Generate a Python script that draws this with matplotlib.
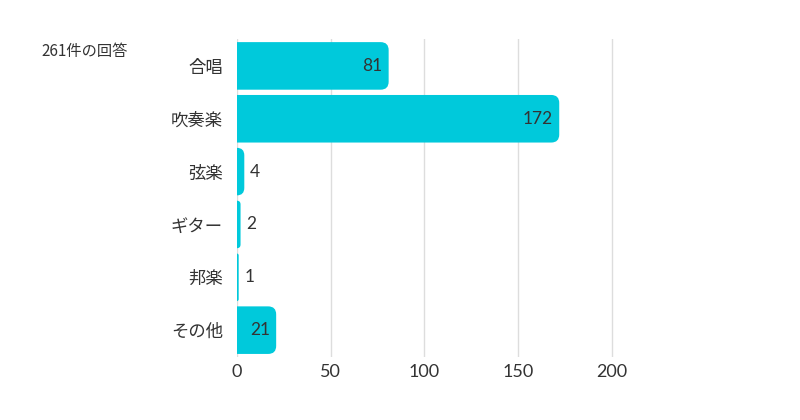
import matplotlib.pyplot as plt
from matplotlib.patches import FancyBboxPatch

categories = ['合唱', '吹奏楽', '弦楽', 'ギター', '邦楽', 'その他']
counts = [81, 172, 4, 2, 1, 21]
xticks = [0, 50, 100, 150, 200]
total_label = '261件の回答'

bar_color = '#00C9DB'
text_color = '#333333'
jp = ['Noto Sans CJK JP', 'DejaVu Sans']
num = ['Lato', 'Noto Sans CJK JP', 'DejaVu Sans']

fig = plt.figure(figsize=(8, 4.2), dpi=100)
ax = fig.add_axes([0.296, 0.151, 0.471, 0.755])

ypos = list(range(len(categories)))
ax.set_xlim(0, 201)
ax.set_ylim(len(categories) - 0.5, -0.5)

# pixels per data unit, used to keep the corners round
px_x = 0.471 * 800 / 201
px_y = 0.755 * 420 / len(categories)
aspect = px_x / px_y
bar_h = 0.9

for y, v in zip(ypos, counts):
    r = min(8 / px_x, v)
    patch = FancyBboxPatch((-r, y - bar_h / 2), v + r, bar_h,
                           boxstyle=f'round,pad=0,rounding_size={r}',
                           mutation_aspect=aspect,
                           facecolor=bar_color, edgecolor='none',
                           zorder=3, clip_on=True)
    ax.add_patch(patch)
    if v >= 15:
        ax.annotate(str(v), (v, y), xytext=(-4.5, 0), textcoords='offset points',
                    ha='right', va='center', fontsize=12.5, color=text_color,
                    family=num, zorder=4)
    else:
        ax.annotate(str(v), (v, y), xytext=(4, 0), textcoords='offset points',
                    ha='left', va='center', fontsize=12.5, color=text_color,
                    family=num, zorder=4)

ax.set_yticks(ypos)
ax.set_yticklabels(categories, fontsize=12.5, color=text_color, family=jp)
ax.set_xticks(xticks)
ax.set_xticklabels([str(t) for t in xticks], fontsize=13, color=text_color, family=num)
ax.tick_params(axis='y', length=0, pad=10)
ax.tick_params(axis='x', length=0, pad=5)

ax.grid(axis='x', color='#dddddd', linewidth=1, zorder=0)
ax.set_axisbelow(True)
for s in ax.spines.values():
    s.set_visible(False)

fig.text(0.052, 0.877, total_label, fontsize=11, color=text_color,
         family=jp, ha='left', va='center')

fig.savefig('out.png', dpi=100, facecolor='white')
